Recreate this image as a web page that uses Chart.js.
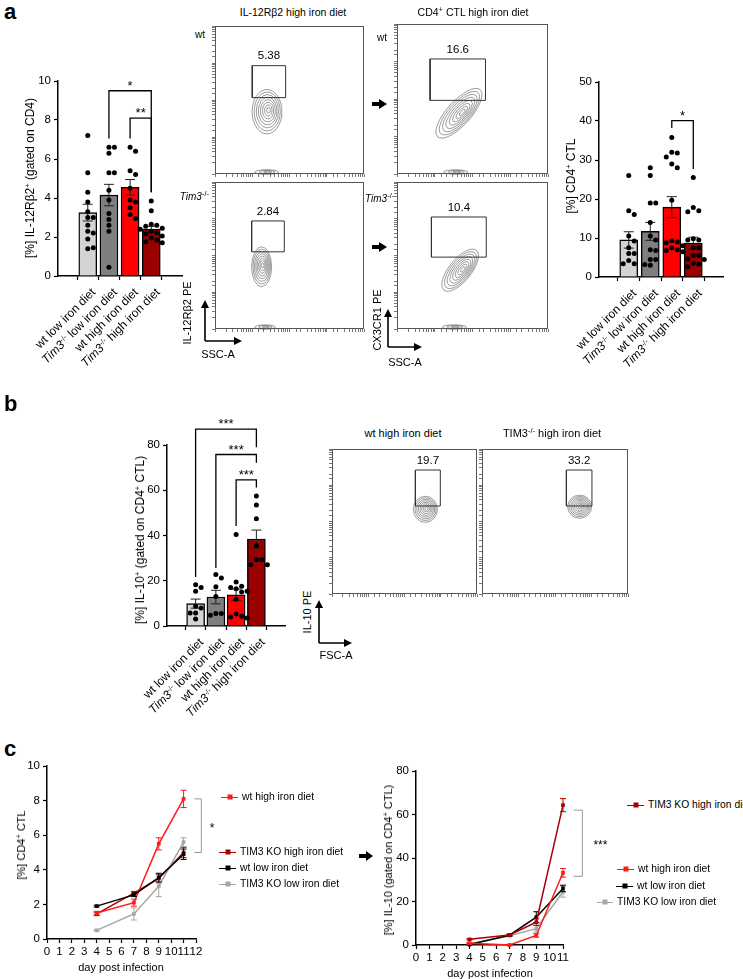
<!DOCTYPE html>
<html>
<head>
<meta charset="utf-8">
<script src="https://cdn.jsdelivr.net/npm/chart.js@4.4.0/dist/chart.umd.min.js"></script>
<style>
  body { margin: 0; background: #fff; }
  #page { position: relative; width: 743px; height: 979px; overflow: hidden; font-family: "Liberation Sans", Arial, sans-serif; color: #000; }
  #page canvas { position: absolute; }
  .t { position: absolute; white-space: nowrap; font-size: 11px; line-height: 14px; }
  .ctr { transform: translate(-50%, -50%); }
  .rot { transform: translate(-50%, -50%) rotate(-90deg); }
  .lft { transform: translateY(-50%); }
  .rgt { transform: translate(-100%, -50%); }
  .cat { position: absolute; white-space: nowrap; font-size: 12px; line-height: 14px; transform-origin: 100% 50%; transform: rotate(-45deg); }
  sup { font-size: 7.5px; vertical-align: 4px; line-height: 0; }
  .letter { position: absolute; font-weight: bold; font-size: 22px; line-height: 22px; }
  .lg { position: absolute; font-size: 10.3px; line-height: 12px; white-space: nowrap; transform: translateY(-50%); }
  .lgl { display: inline-block; position: relative; height: 1.5px; vertical-align: middle; margin-right: 4px; }
  .lgm { position: absolute; left: 50%; top: 50%; width: 5px; height: 5px; transform: translate(-50%, -50%); }
</style>
</head>
<body>
<div id="page">
<svg width="743" height="979" style="position:absolute;left:0;top:0" stroke="#000" stroke-width="1.6">
  <path d="M205 341 V307 M205 341 H235" fill="none"/>
  <polygon points="201,308 209,308 205,300" stroke="none"/>
  <polygon points="234,337 234,345 242,341" stroke="none"/>
  <path d="M388 347 V316 M388 347 H415" fill="none"/>
  <polygon points="384,317 392,317 388,309" stroke="none"/>
  <polygon points="414,343 414,351 422,347" stroke="none"/>
  <path d="M319 643 V607 M319 643 H345" fill="none"/>
  <polygon points="315,608 323,608 319,600" stroke="none"/>
  <polygon points="344,639 344,647 352,643" stroke="none"/>
  <polygon points="372,102 379,102 379,99 387,104 379,109 379,106 372,106" stroke="none"/>
  <polygon points="372,245 379,245 379,242 387,247 379,252 379,249 372,249" stroke="none"/>
  <polygon points="359,854 366,854 366,851 373,856 366,861 366,858 359,858" stroke="none"/>
</svg>
</div>
<script>
// groups
const groupLabels = ['wt low iron diet', 'Tim3-/- low iron diet', 'wt high iron diet', 'Tim3-/- high iron diet'];
const barColors = ['#d4d4d4', '#7f7f7f', '#ff0000', '#9b0000'];

// a: IL-12Rb2+ (% of CD4)
const il12Mean = [3.25, 4.15, 4.55, 2.4];
const il12Sem = [0.43, 0.55, 0.4, 0.15];
const il12WtLow = [7.2, 5.3, 4.3, 3.8, 3.3, 3.0, 3.0, 2.6, 2.3, 2.2, 1.9, 1.4, 1.45];
const il12KoLow = [6.6, 6.6, 6.3, 5.3, 5.3, 4.4, 3.9, 3.2, 2.9, 2.6, 2.3, 0.45];
const il12WtHigh = [6.6, 6.4, 5.4, 5.2, 4.5, 3.9, 3.8, 3.5, 3.15, 2.95];
const il12KoHigh = [3.85, 3.35, 2.65, 2.6, 2.55, 2.45, 2.4, 2.3, 2.2, 2.15, 2.05, 1.95, 1.85, 1.75, 1.7];

// a: CD4+ CTL (%)
const ctlMean = [9.5, 11.7, 17.9, 8.7];
const ctlSem = [2.1, 2.3, 2.7, 1.5];
const ctlWtLow = [26, 17, 16, 10.5, 9.2, 7.5, 6, 6, 4.2, 3.4, 3.4];
const ctlKoLow = [28, 26, 19, 19, 14, 10.5, 9.5, 7, 6.8, 4.5, 4.5, 3.2, 3];
const ctlWtHigh = [35.8, 32, 31.8, 30.8, 29, 28, 19.7, 9.3, 9, 8.8, 8, 7.5, 7, 6.8, 6.5];
const ctlKoHigh = [25.5, 17.8, 17, 16.7, 9.8, 9.5, 9.5, 7.5, 7.5, 5.5, 5.5, 4.6, 4.5, 3.5, 3.3, 2.6];

// b: IL-10+ (% of CD4+ CTL)
const il10Mean = [9.9, 12.8, 13.8, 38.4];
const il10Sem = [2.0, 3.0, 2.5, 4.0];
const il10WtLow = [18.2, 17, 15.4, 8.7, 8, 5.8, 5.7, 3.1];
const il10KoLow = [22.8, 21.2, 17.4, 13, 5.5, 5.5, 4.7];
const il10WtHigh = [40.4, 19.4, 17.6, 17, 16.5, 15.4, 15, 11.8, 5.3, 4.3, 4, 3.5];
const il10KoHigh = [57.5, 53.5, 47.4, 35.5, 29.3, 29.3, 27.1, 27.1];

// significance brackets: [from, to, top, left leg end, right leg end, label]
const il12Brackets = [[1, 3, 9.5, 7.05, 4.3, '*'], [2, 3, 8.1, 7.05, 4.3, '**']];
const ctlBrackets = [[2, 3, 40.1, 38.2, 27.7, '*']];
const il10Brackets = [[0, 3, 87, 21.7, 79, '***'], [1, 3, 75.8, 25.6, 72.2, '***'], [2, 3, 64.6, 44.2, 61.2, '***']];

// c: time course
const days = [4, 7, 9, 11];
const lineNames = ['wt high iron diet', 'TIM3 KO high iron diet', 'wt low iron diet', 'TIM3 KO low iron diet'];
const lineColors = ['#ff1a1a', '#a80000', '#000000', '#a6a6a6'];
const ctlTimeWtHigh = [1.5, 2.1, 5.5, 8.1];
const ctlTimeWtHighErr = [0.1, 0.2, 0.35, 0.5];
const ctlTimeKoHigh = [1.45, 2.65, 3.5, 5.0];
const ctlTimeKoHighErr = [0.1, 0.1, 0.25, 0.3];
const ctlTimeWtLow = [1.9, 2.55, 3.55, 4.9];
const ctlTimeWtLowErr = [0.05, 0.1, 0.25, 0.3];
const ctlTimeKoLow = [0.5, 1.45, 3.05, 5.6];
const ctlTimeKoLowErr = [0.05, 0.35, 0.6, 0.25];
const il10TimeWtHigh = [0.8, 0, 4.4, 33.2];
const il10TimeWtHighErr = [0.4, 0.3, 0.8, 2.0];
const il10TimeKoHigh = [2.6, 4.6, 10.5, 64.3];
const il10TimeKoHighErr = [0.3, 0.4, 1.5, 3.0];
const il10TimeWtLow = [0.2, 4.5, 12.8, 26];
const il10TimeWtLowErr = [0.2, 0.4, 2.5, 1.5];
const il10TimeKoLow = [0.5, 4.3, 7.5, 24.5];
const il10TimeKoLowErr = [0.3, 0.4, 1.5, 2.5];

// flow plots (plot units 0-100): gates [x1, y1, x2, y2], frequencies, populations [x, y, rx, ry, angle]
const il12Gates = [[25, 51.6, 47.4, 73.2], [24.6, 52.5, 46.5, 73.5]];
const il12Freq = ['5.38', '2.84'];
const il12Pops = [[[34.9, 42.1, 10, 15, 0], [34.7, 1.3, 8, 1.6, 0]], [[31.3, 42.3, 6.7, 13.6, 0], [33.6, 1.3, 7, 1.5, 0]]];
const ctlGates = [[21.9, 49.1, 58.6, 76.7], [22.8, 48.9, 59.1, 76.2]];
const ctlFreq = ['16.6', '10.4'];
const ctlPops = [[[41, 40.5, 21, 8, -48], [39, 1.3, 8, 1.5, 0]], [[41.8, 40, 17, 7.5, -51], [38, 1.3, 8, 1.5, 0]]];
const il10Gates = [[57.5, 60.7, 74.7, 85.5], [57.8, 60.7, 75.3, 85.5]];
const il10Freq = ['19.7', '33.2'];
const il10Pops = [[[64.4, 58.4, 8.3, 9, 0]], [[66.9, 60.2, 8.2, 8, 0]]];

Chart.defaults.font.family = "'Liberation Sans', Arial, sans-serif";
Chart.defaults.font.size = 11.5;
Chart.defaults.color = '#000';
Chart.defaults.animation = false;
Chart.defaults.plugins.legend.display = false;
Chart.defaults.plugins.tooltip.enabled = false;

const page = document.getElementById('page');
const axisGrid = { drawOnChartArea: false, drawTicks: true, tickLength: 4, tickColor: '#000', tickWidth: 1.2 };
const axisBorder = { color: '#000', width: 1.5 };

function makeCanvas(left, top, w, h) {
  const c = document.createElement('canvas');
  c.width = w; c.height = h;
  c.style.left = left + 'px'; c.style.top = top + 'px';
  c.style.width = w + 'px'; c.style.height = h + 'px';
  page.appendChild(c);
  return c;
}

function fmt(s) {
  return s.replace('Tim3-/-', '<i>Tim3</i><sup>-/-</sup>').replace('TIM3-/-', 'TIM3<sup>-/-</sup>');
}

function text(html, x, y, cls, size) {
  const d = document.createElement('div');
  d.className = 't ' + cls;
  d.style.left = x + 'px'; d.style.top = y + 'px';
  if (size) d.style.fontSize = size + 'px';
  d.innerHTML = html;
  page.appendChild(d);
}

function letter(ch, x, y) {
  const d = document.createElement('div');
  d.className = 'letter';
  d.style.left = x + 'px'; d.style.top = y + 'px';
  d.textContent = ch;
  page.appendChild(d);
}

function legendItem(x1, x2, y, color, name) {
  const d = document.createElement('div');
  d.className = 'lg';
  d.style.left = x1 + 'px'; d.style.top = y + 'px';
  d.innerHTML = '<span class="lgl" style="width:' + (x2 - x1 - 4) + 'px;background:' + color + '"><span class="lgm" style="background:' + color + '"></span></span>' + name;
  page.appendChild(d);
}

// spread the dots of each group sideways so they do not overlap
function swarm(chart, groups, r) {
  const { x, y } = chart.scales;
  const d = 2 * r + 0.5;
  const pts = [];
  groups.forEach((vals, i) => {
    const cx = x.getPixelForValue(i);
    const placed = [];
    vals.forEach(v => {
      const py = y.getPixelForValue(v);
      let off = 0;
      for (let k = 0; k < 20; k++) {
        const o = (k % 2 ? 1 : -1) * Math.ceil(k / 2) * d;
        if (placed.every(p => Math.hypot(p[0] - o, p[1] - py) >= d)) { off = o; break; }
      }
      placed.push([off, py]);
      pts.push({ x: x.getValueForPixel(cx + off), y: v });
    });
  });
  return pts;
}

function barExtras(means, sems, brackets) {
  return {
    id: 'barExtras',
    afterDatasetDraw(chart, args) {
      if (args.index !== 0) return;
      const { ctx, scales: { x, y } } = chart;
      ctx.save();
      ctx.strokeStyle = '#222';
      ctx.lineWidth = 1;
      means.forEach((m, i) => {
        const px = x.getPixelForValue(i);
        const t = y.getPixelForValue(m + sems[i]), b = y.getPixelForValue(m - sems[i]);
        ctx.beginPath();
        ctx.moveTo(px, t); ctx.lineTo(px, b);
        ctx.moveTo(px - 5, t); ctx.lineTo(px + 5, t);
        ctx.moveTo(px - 5, b); ctx.lineTo(px + 5, b);
        ctx.stroke();
      });
      ctx.restore();
    },
    afterDraw(chart) {
      const { ctx, scales: { x, y } } = chart;
      ctx.save();
      ctx.strokeStyle = '#000';
      ctx.lineWidth = 1.3;
      ctx.fillStyle = '#000';
      ctx.font = "13px 'Liberation Sans', Arial, sans-serif";
      ctx.textAlign = 'center';
      ctx.textBaseline = 'alphabetic';
      brackets.forEach(([from, to, top, l1, l2, lab]) => {
        const x1 = x.getPixelForValue(from), x2 = x.getPixelForValue(to), yt = y.getPixelForValue(top);
        ctx.beginPath();
        ctx.moveTo(x1, y.getPixelForValue(l1));
        ctx.lineTo(x1, yt); ctx.lineTo(x2, yt);
        ctx.lineTo(x2, y.getPixelForValue(l2));
        ctx.stroke();
        ctx.fillText(lab, (x1 + x2) / 2, yt - 1);
      });
      ctx.restore();
    }
  };
}

function barPanel(cv, means, sems, groups, yMax, yStep, xRange, yW, xH, pad, brackets) {
  const chart = new Chart(makeCanvas(...cv), {
    type: 'bar',
    data: {
      datasets: [
        { type: 'bar', data: means.map((m, i) => ({ x: i, y: m })), backgroundColor: barColors,
          borderColor: '#000', borderWidth: 1.4, barThickness: 18, order: 2 },
        { type: 'scatter', data: [], pointRadius: 2.5, pointBackgroundColor: '#000',
          pointBorderWidth: 0, order: 1, clip: false }
      ]
    },
    options: {
      responsive: false,
      layout: { padding: pad },
      scales: {
        x: { type: 'linear', min: xRange[0], max: xRange[1],
             afterBuildTicks: s => { s.ticks = groups.map((g, i) => ({ value: i })); },
             ticks: { display: false }, grid: axisGrid, border: axisBorder,
             afterFit: s => { s.height = xH; } },
        y: { min: 0, max: yMax, ticks: { stepSize: yStep, padding: 3 },
             grid: axisGrid, border: axisBorder, afterFit: s => { s.width = yW; } }
      }
    },
    plugins: [barExtras(means, sems, brackets)]
  });
  chart.data.datasets[1].data = swarm(chart, groups, 2.5);
  chart.update('none');
  // rotated category labels ending under each tick
  const { x, y } = chart.scales;
  groupLabels.forEach((lab, i) => {
    const d = document.createElement('div');
    d.className = 'cat';
    d.innerHTML = fmt(lab);
    d.style.right = (743 - (cv[0] + x.getPixelForValue(i) + 6)) + 'px';
    d.style.top = (cv[1] + y.bottom + 14 - 7) + 'px';
    page.appendChild(d);
  });
  return chart;
}

function lineExtras(br) {
  return {
    id: 'lineExtras',
    afterDatasetDraw(chart, args) {
      const ds = chart.data.datasets[args.index];
      const { ctx, scales: { y } } = chart;
      ctx.save();
      ctx.strokeStyle = ds.borderColor;
      ctx.lineWidth = 1;
      args.meta.data.forEach((pt, i) => {
        const v = ds.data[i].y, e = ds.errors[i];
        const t = y.getPixelForValue(v + e), b = y.getPixelForValue(v - e);
        ctx.beginPath();
        ctx.moveTo(pt.x, t); ctx.lineTo(pt.x, b);
        ctx.moveTo(pt.x - 3, t); ctx.lineTo(pt.x + 3, t);
        ctx.moveTo(pt.x - 3, b); ctx.lineTo(pt.x + 3, b);
        ctx.stroke();
      });
      ctx.restore();
    },
    afterDraw(chart) {
      const { ctx, scales: { x, y } } = chart;
      const [xIn, xOut, y1, y2, lab, xLab] = br;
      const a = x.getPixelForValue(xIn), b = x.getPixelForValue(xOut);
      const p1 = y.getPixelForValue(y1), p2 = y.getPixelForValue(y2);
      ctx.save();
      ctx.strokeStyle = '#9a9a9a';
      ctx.lineWidth = 1;
      ctx.beginPath();
      ctx.moveTo(a, p1); ctx.lineTo(b, p1); ctx.lineTo(b, p2); ctx.lineTo(a, p2);
      ctx.stroke();
      ctx.fillStyle = '#000';
      ctx.font = "12px 'Liberation Sans', Arial, sans-serif";
      ctx.textAlign = 'center';
      ctx.fillText(lab, x.getPixelForValue(xLab), (p1 + p2) / 2 + 6);
      ctx.restore();
    }
  };
}

function linePanel(cv, values, errors, order, xMax, yMax, yStep, yW, xH, pad, br) {
  return new Chart(makeCanvas(...cv), {
    type: 'line',
    data: {
      datasets: values.map((vals, k) => ({
        label: lineNames[k],
        data: days.map((d, i) => ({ x: d, y: vals[i] })),
        errors: errors[k],
        borderColor: lineColors[k], backgroundColor: lineColors[k],
        borderWidth: 1.5, pointStyle: 'rect', pointRadius: 2.6, pointBorderWidth: 0,
        clip: false, order: order[k]
      }))
    },
    options: {
      responsive: false,
      layout: { padding: pad },
      scales: {
        x: { type: 'linear', min: 0, max: xMax,
             ticks: { stepSize: 1, autoSkip: false, maxRotation: 0, minRotation: 0, padding: 2 },
             grid: axisGrid, border: axisBorder, afterFit: s => { s.height = xH; } },
        y: { min: 0, max: yMax, ticks: { stepSize: yStep, padding: 3 },
             grid: axisGrid, border: axisBorder, afterFit: s => { s.width = yW; } }
      }
    },
    plugins: [lineExtras(br)]
  });
}

function flowDecor(gate, freq, pops) {
  return {
    id: 'flowDecor',
    beforeDatasetsDraw(chart) {
      const { ctx, scales: { x, y } } = chart;
      ctx.save();
      ctx.strokeStyle = 'rgba(60,60,60,0.85)';
      ctx.lineWidth = 0.6;
      pops.forEach(([px, py, rx, ry, ang]) => {
        const cx = x.getPixelForValue(px), cy = y.getPixelForValue(py);
        const a = Math.abs(x.getPixelForValue(px + rx) - cx), b = Math.abs(y.getPixelForValue(py + ry) - cy);
        const n = b < 4 ? 3 : 8;
        for (let k = n; k >= 1; k--) {
          const s = k / n;
          ctx.beginPath();
          ctx.ellipse(cx + (1 - s) * a * 0.12, cy - (1 - s) * b * 0.08, a * s, b * s, ang * Math.PI / 180, 0, 2 * Math.PI);
          ctx.stroke();
        }
      });
      ctx.restore();
    },
    afterDraw(chart) {
      const { ctx, chartArea: ca, scales: { x, y } } = chart;
      ctx.save();
      ctx.strokeStyle = '#555';
      ctx.lineWidth = 1;
      ctx.strokeRect(ca.left + 0.5, ca.top + 0.5, ca.width - 1, ca.height - 1);
      ctx.fillStyle = '#000';
      ctx.font = "11.5px 'Liberation Sans', Arial, sans-serif";
      ctx.textAlign = 'center';
      ctx.textBaseline = 'middle';
      ctx.fillText(freq, x.getPixelForValue((gate[0] + gate[2]) / 2), y.getPixelForValue(gate[3]) - 9.5);
      ctx.restore();
    }
  };
}

function flowPlot(box, gate, freq, pops) {
  const [l, t, w, h] = box;
  const logTicks = { type: 'logarithmic', min: 10, max: 100000, ticks: { display: false },
    grid: { drawOnChartArea: false, drawTicks: true, tickLength: 3, tickColor: '#555', tickWidth: 0.8 },
    border: { display: false } };
  return new Chart(makeCanvas(l - 6, t - 1, w + 8, h + 7), {
    type: 'scatter',
    data: {
      datasets: [{
        data: [[gate[0], gate[1]], [gate[2], gate[1]], [gate[2], gate[3]], [gate[0], gate[3]], [gate[0], gate[1]]]
          .map(p => ({ x: p[0], y: p[1] })),
        xAxisID: 'x', yAxisID: 'y',
        showLine: true, borderColor: '#333', borderWidth: 1, pointRadius: 0
      }]
    },
    options: {
      responsive: false,
      layout: { padding: { top: 1, right: 2, left: 0, bottom: 0 } },
      scales: {
        x: { type: 'linear', min: 0, max: 100, display: false },
        y: { type: 'linear', min: 0, max: 100, display: false },
        xt: Object.assign({ position: 'bottom', afterFit: s => { s.height = 6; } }, logTicks),
        yt: Object.assign({ position: 'left', afterFit: s => { s.width = 6; } }, logTicks)
      }
    },
    plugins: [flowDecor(gate, freq, pops)]
  });
}

// ---- panel a ----
letter('a', 4, 1);
barPanel([0, 60, 200, 300], il12Mean, il12Sem, [il12WtLow, il12KoLow, il12WtHigh, il12KoHigh],
  10, 2, [-0.674, 3.72], 58, 84, { top: 21, right: 18, left: 0, bottom: 0 }, il12Brackets);
text('[%] IL-12Rβ2<sup>+</sup> (gated on CD4)', 30, 178, 'rot', 12);

barPanel([545, 60, 198, 300], ctlMean, ctlSem, [ctlWtLow, ctlKoLow, ctlWtHigh, ctlKoHigh],
  50, 10, [-0.662, 3.66], 54, 83, { top: 22, right: 20, left: 0, bottom: 0 }, ctlBrackets);
text('[%] CD4<sup>+</sup> CTL', 571, 176, 'rot', 12);

flowPlot([215, 26, 149, 148], il12Gates[0], il12Freq[0], il12Pops[0]);
flowPlot([215, 182, 149, 147], il12Gates[1], il12Freq[1], il12Pops[1]);
flowPlot([397, 24, 151, 150], ctlGates[0], ctlFreq[0], ctlPops[0]);
flowPlot([397, 182, 151, 147], ctlGates[1], ctlFreq[1], ctlPops[1]);
text('IL-12Rβ2 high iron diet', 293, 12, 'ctr', 10.5);
text('CD4<sup>+</sup> CTL high iron diet', 473, 12, 'ctr', 10.5);
text('wt', 195, 35, 'lft', 10);
text('wt', 377, 38, 'lft', 10);
text(fmt('Tim3-/-'), 209, 197, 'rgt', 10);
text(fmt('Tim3-/-'), 365, 199, 'lft', 10);
text('IL-12Rβ2 PE', 187, 313, 'rot', 11);
text('SSC-A', 218, 354, 'ctr', 11);
text('CX3CR1 PE', 377, 320, 'rot', 11);
text('SSC-A', 405, 362, 'ctr', 11);

// ---- panel b ----
letter('b', 4, 393);
barPanel([110, 400, 190, 310], il10Mean, il10Sem, [il10WtLow, il10KoLow, il10WtHigh, il10KoHigh],
  80, 20, [-0.685, 3.685], 57, 84, { top: 45, right: 15, left: 0, bottom: 0 }, il10Brackets);
text('[%] IL-10<sup>+</sup> (gated on CD4<sup>+</sup> CTL)', 140, 540, 'rot', 12);

flowPlot([332, 449, 145, 145], il10Gates[0], il10Freq[0], il10Pops[0]);
flowPlot([482, 449, 146, 145], il10Gates[1], il10Freq[1], il10Pops[1]);
text('wt high iron diet', 403, 433, 'ctr', 11);
text(fmt('TIM3-/- high iron diet'), 552, 433, 'ctr', 11);
text('IL-10 PE', 307, 612, 'rot', 11);
text('FSC-A', 336, 655, 'ctr', 11);

// ---- panel c ----
letter('c', 4, 738);
linePanel([0, 740, 260, 239],
  [ctlTimeWtHigh, ctlTimeKoHigh, ctlTimeWtLow, ctlTimeKoLow],
  [ctlTimeWtHighErr, ctlTimeKoHighErr, ctlTimeWtLowErr, ctlTimeKoLowErr],
  [1, 3, 0, 2], 12, 10, 2, 47, 40, { top: 26, right: 64, left: 0, bottom: 0 },
  [11.86, 12.43, 8.1, 5.0, '*', 13.3]);
text('[%] CD4<sup>+</sup> CTL', 21, 845, 'rot', 11);
text('day post infection', 121, 967, 'ctr', 11);
legendItem(221, 242, 797, lineColors[0], lineNames[0]);
legendItem(219, 240, 852, lineColors[1], lineNames[1]);
legendItem(219, 240, 868, lineColors[2], lineNames[2]);
legendItem(219, 240, 884, lineColors[3], lineNames[3]);

linePanel([360, 745, 260, 234],
  [il10TimeWtHigh, il10TimeKoHigh, il10TimeWtLow, il10TimeKoLow],
  [il10TimeWtHighErr, il10TimeKoHighErr, il10TimeWtLowErr, il10TimeKoLowErr],
  [1, 0, 2, 3], 11, 80, 20, 56, 34, { top: 26, right: 57, left: 0, bottom: 0 },
  [11.8, 12.45, 62, 31.6, '***', 13.8]);
text('[%] IL-10 (gated on CD4<sup>+</sup> CTL)', 388, 860, 'rot', 11);
text('day post infection', 490, 973, 'ctr', 11);
legendItem(627, 648, 805, lineColors[1], lineNames[1]);
legendItem(617, 638, 869, lineColors[0], lineNames[0]);
legendItem(616, 637, 886, lineColors[2], lineNames[2]);
legendItem(597, 617, 902, lineColors[3], lineNames[3]);
</script>
</body>
</html>
